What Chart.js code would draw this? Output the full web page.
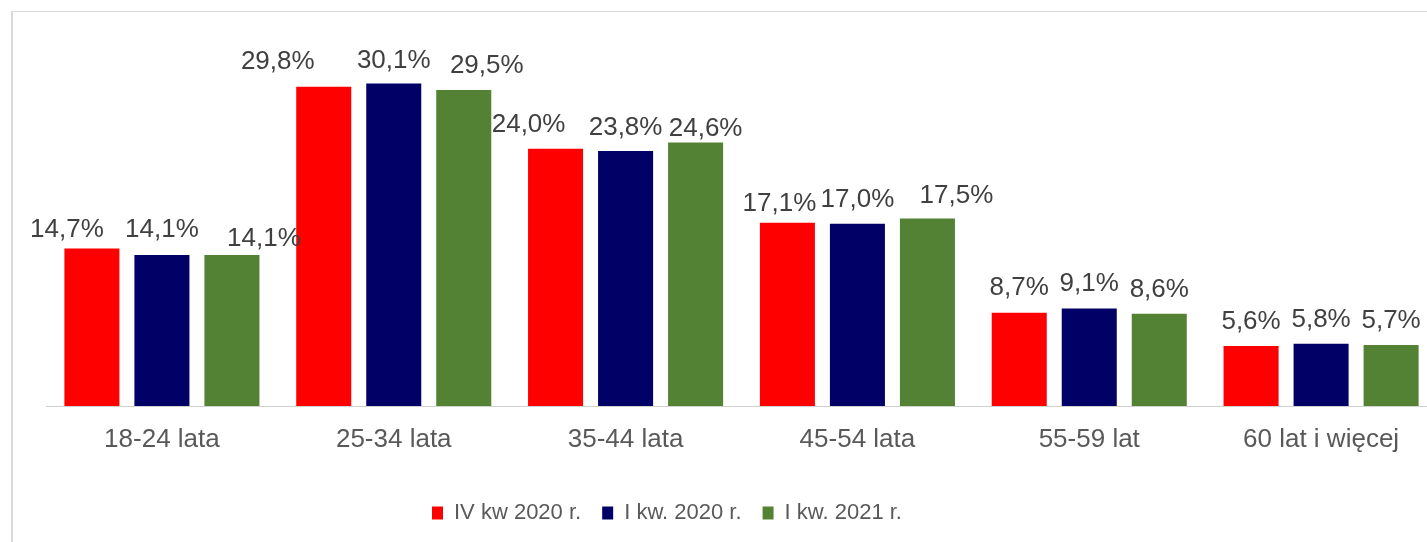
<!DOCTYPE html>
<html lang="pl">
<head>
<meta charset="utf-8">
<title>Struktura wiekowa</title>
<script src="https://cdn.jsdelivr.net/npm/chart.js@4.4.1/dist/chart.umd.min.js"></script>
<style>
  html, body { margin: 0; padding: 0; background: #fff; overflow: hidden; width: 1427px; height: 542px; }
  /* ramka wykresu (ucięta z prawej i z dołu, jak na oryginale) */
  #frame { position: absolute; left: 11px; top: 11px; width: 1500px; height: 600px;
           border-left: 2px solid #d9d9d9; border-top: 1px solid #d9d9d9; }
  #wrap { position: absolute; left: 0; top: 0; width: 1460px; height: 542px; }
</style>
</head>
<body>
<div id="frame"></div>
<div id="wrap"><canvas id="ageChart"></canvas></div>
<script>
// --- Dane ---
const categories = ["18-24 lata", "25-34 lata", "35-44 lata", "45-54 lata", "55-59 lat", "60 lat i więcej"];
const seriesNames = ["IV kw 2020 r.", "I kw. 2020 r.", "I kw. 2021 r."];
const ivKw2020 = [14.7, 29.8, 24.0, 17.1, 8.7, 5.6];
const iKw2020 = [14.1, 30.1, 23.8, 17.0, 9.1, 5.8];
const iKw2021 = [14.1, 29.5, 24.6, 17.5, 8.6, 5.7];

// --- Kolory / style ---
const redColor = "#ff0000";
const navyColor = "#000066";
const greenColor = "#548235";
const fontFamily = "'Liberation Sans', Arial, sans-serif";

// przesunięcia etykiet wartości [dx, dy] (ręcznie ustawione w oryginale)
const labelNudge = [
  [[-25, 5], [-46, -1], [-27, 0], [-8, 5], [0, -1], [0, 0]],
  [[0, -1], [0, 1], [0, 1], [0, 0], [0, -1], [0, 0]],
  [[32, 8], [23, 0], [10, 11], [29, 1], [0, 0], [0, 0]],
];

function fmt(v) {
  return v.toFixed(1).replace(".", ",") + "%";
}

// Etykiety wartości nad słupkami
const valueLabels = {
  id: "valueLabels",
  afterDatasetsDraw(chart) {
    const ctx = chart.ctx;
    ctx.save();
    ctx.font = "26px " + fontFamily;
    ctx.fillStyle = "#404040";
    ctx.textAlign = "center";
    ctx.textBaseline = "alphabetic";
    chart.data.datasets.forEach((ds, i) => {
      chart.getDatasetMeta(i).data.forEach((bar, j) => {
        const [dx, dy] = labelNudge[i][j];
        ctx.fillText(fmt(ds.data[j]), bar.x + dx, bar.y - 17 + dy);
      });
    });
    ctx.restore();
  },
};

// Legenda ustawiona tak jak w oryginale (nie na środku)
const legendPad = 21;
const legendPlacement = {
  id: "legendPlacement",
  afterLayout(chart) {
    const lg = chart.legend;
    const w = lg.width, h = lg.height;
    lg.left = 432 - legendPad;
    lg.right = lg.left + w;
    lg.top = 481;
    lg.bottom = lg.top + h;
  },
};

const ctx = document.getElementById("ageChart").getContext("2d");
new Chart(ctx, {
  type: "bar",
  data: {
    labels: categories,
    datasets: [
      { label: seriesNames[0], data: ivKw2020, backgroundColor: redColor },
      { label: seriesNames[1], data: iKw2020, backgroundColor: navyColor },
      { label: seriesNames[2], data: iKw2021, backgroundColor: greenColor },
    ],
  },
  options: {
    responsive: true,
    maintainAspectRatio: false,
    animation: false,
    categoryPercentage: 0.906,
    barPercentage: 0.786,
    layout: { padding: { left: 46, right: 23, top: 31, bottom: 0 } },
    plugins: {
      legend: {
        position: "bottom",
        align: "start",
        labels: {
          boxWidth: 11,
          boxHeight: 13,
          padding: legendPad,
          color: "#595959",
          font: { size: 22, family: fontFamily },
        },
      },
      tooltip: { enabled: false },
    },
    scales: {
      x: {
        grid: { display: false, drawTicks: false },
        border: { color: "#d0d0d0", width: 1 },
        ticks: { color: "#595959", padding: 18, font: { size: 26, family: fontFamily } },
        afterFit(scale) {
          scale.height = scale.chart.height - 406 - scale.chart.legend.height;
        },
      },
      y: { display: false, min: 0, max: 35 },
    },
  },
  plugins: [valueLabels, legendPlacement],
});
</script>
</body>
</html>
